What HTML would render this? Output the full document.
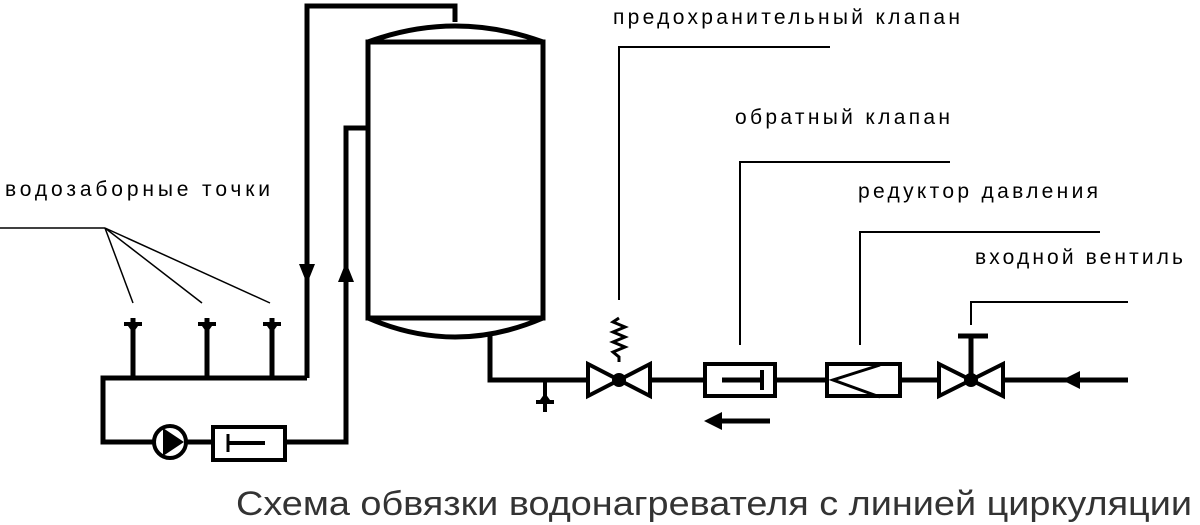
<!DOCTYPE html>
<html><head><meta charset="utf-8"><style>
html,body{margin:0;padding:0;background:#fff;}
svg{display:block}
text{font-family:"Liberation Sans","DejaVu Sans",sans-serif;fill:#000}
</style></head><body>
<svg width="1200" height="525" viewBox="0 0 1200 525" xmlns="http://www.w3.org/2000/svg">
<g fill="none" stroke="#000" stroke-width="5">
<polyline points="307,378 307,6 455,6 455,22"/>
<path d="M368,42 Q455,10 543,42"/>
<rect x="368" y="42" width="175" height="276"/>
<path d="M368,318 Q455,356 543,318"/>
<polyline points="368,128 346,128 346,442 285,442"/>
<polyline points="307,378 103,378 103,442 154,442"/>
<line x1="186" y1="442" x2="213" y2="442"/>
<circle cx="170" cy="442" r="16" stroke-width="4"/>
<rect x="213" y="427" width="72" height="33" stroke-width="4"/>
<line x1="228" y1="443" x2="265" y2="443" stroke-width="4"/>
<line x1="228" y1="434" x2="228" y2="452" stroke-width="3"/>
<line x1="133" y1="318" x2="133" y2="378"/>
<line x1="207" y1="318" x2="207" y2="378"/>
<line x1="272" y1="318" x2="272" y2="378"/>
<polyline points="490,335 490,380 588,380"/>
<line x1="650" y1="380" x2="703" y2="380"/>
<line x1="775" y1="380" x2="825" y2="380"/>
<line x1="900" y1="380" x2="939" y2="380"/>
<line x1="1003" y1="380" x2="1128" y2="380"/>
<line x1="545" y1="380" x2="545" y2="412" stroke-width="4"/>
<polygon points="588,364 650,396 650,364 588,396" stroke-width="4"/>
<polygon points="939,364 1003,396 1003,364 939,396" stroke-width="4"/>
<line x1="971" y1="336" x2="971" y2="380"/>
<line x1="958" y1="336" x2="988" y2="336"/>
<rect x="705" y="364" width="70" height="32" stroke-width="4"/>
<line x1="722" y1="380" x2="762" y2="380"/>
<line x1="762" y1="370" x2="762" y2="390" stroke-width="4"/>
<rect x="827" y="364" width="73" height="32" stroke-width="4"/>
<polyline points="880,365 833,380 880,397" stroke-width="3"/>
<line x1="712" y1="421" x2="770" y2="421"/>
<polyline points="619,362 619,357 613,352 625,347 613,342 625,337 613,332 625,327 613,322 619,318" stroke-width="3"/>
</g>
<g fill="#000">
<circle cx="619" cy="380" r="7"/>
<circle cx="971" cy="380" r="7"/>
<path d="M163,428 L184,442 L163,456 Z"/>
<polygon points="299,264 315,264 307,284"/>
<polygon points="338,282 354,282 346,262"/>
<polygon points="1062,380 1080,371 1080,389"/>
<polygon points="704,421 722,412 722,430"/>
<g><rect x="124" y="322" width="18" height="4"/><polygon points="128,326 138,326 133,333"/></g>
<g><rect x="198" y="322" width="18" height="4"/><polygon points="202,326 212,326 207,333"/></g>
<g><rect x="263" y="322" width="18" height="4"/><polygon points="267,326 277,326 272,333"/></g>
<g><rect x="536" y="400" width="18" height="4"/><polygon points="540,400 550,400 545,393"/></g>
</g>
<g fill="none" stroke="#000" stroke-width="1.5">
<polyline points="0,228 105,228"/>
<line x1="105" y1="228" x2="133" y2="303"/>
<line x1="105" y1="228" x2="202" y2="303"/>
<line x1="105" y1="228" x2="270" y2="303"/>
<polyline points="619,300 619,47 830,47" stroke-width="2"/>
<polyline points="740,345 740,162 950,162" stroke-width="2"/>
<polyline points="860,345 860,232 1100,232" stroke-width="2"/>
<polyline points="971,325 971,302 1128,302" stroke-width="2"/>
</g>
<text x="5" y="196" font-size="21" textLength="265" lengthAdjust="spacing">водозаборные точки</text>
<text x="613" y="24" font-size="21" textLength="347" lengthAdjust="spacing">предохранительный клапан</text>
<text x="735" y="124" font-size="21" textLength="215" lengthAdjust="spacing">обратный клапан</text>
<text x="858" y="198" font-size="21" textLength="240" lengthAdjust="spacing">редуктор давления</text>
<text x="975" y="264" font-size="21" textLength="208" lengthAdjust="spacing">входной вентиль</text>
<text x="236" y="515" font-size="34" textLength="956" lengthAdjust="spacingAndGlyphs" style="fill:#333">Схема обвязки водонагревателя с линией циркуляции</text>
</svg>
</body></html>
